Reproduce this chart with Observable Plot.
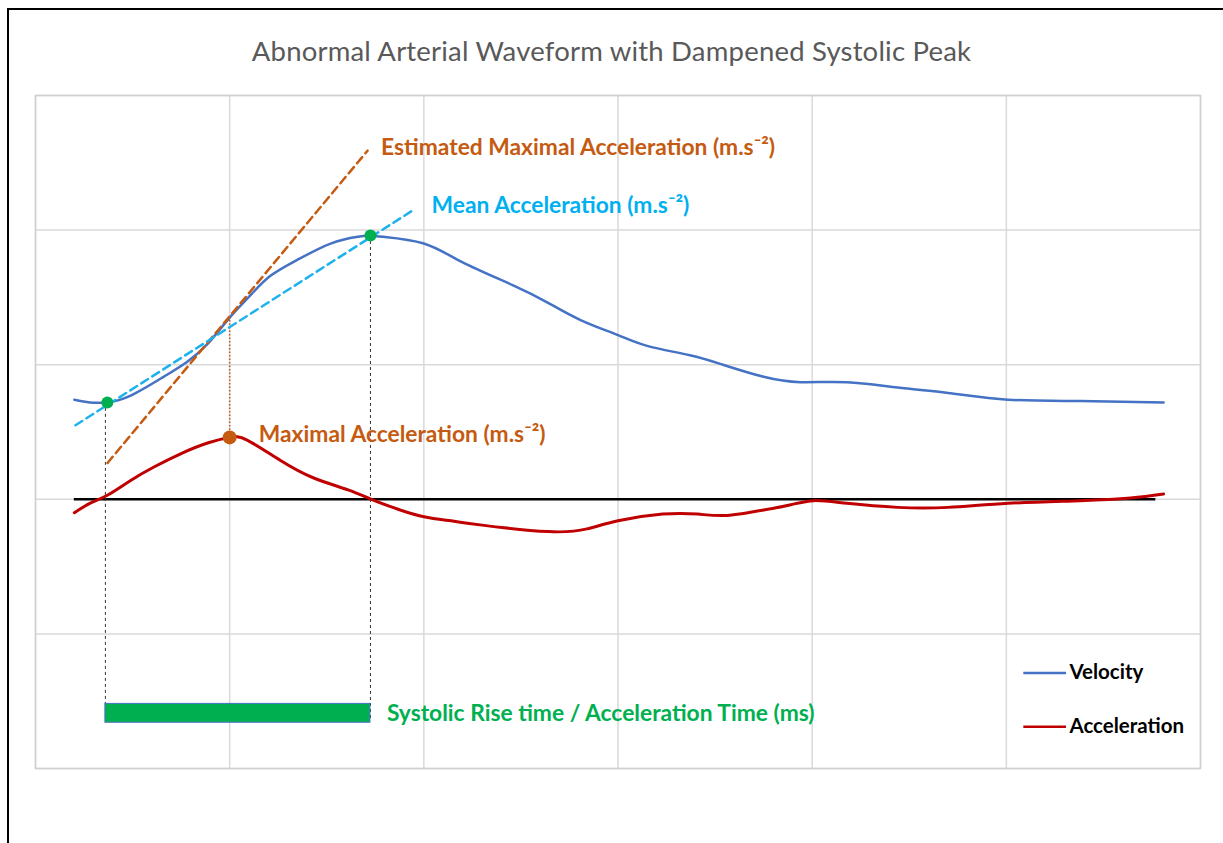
<!DOCTYPE html>
<html>
<head>
<meta charset="utf-8">
<script src="https://cdn.jsdelivr.net/npm/d3@7"></script>
<script src="https://cdn.jsdelivr.net/npm/@observablehq/plot@0.6"></script>
<style>
  html, body { margin: 0; padding: 0; background: #fff; }
  body { width: 1223px; height: 843px; position: relative; overflow: hidden; font-family: Lato, "Open Sans", sans-serif; }
  #frame { position: absolute; left: 7px; top: 8px; width: 1300px; height: 900px; border-left: 2px solid #000; border-top: 2px solid #000; pointer-events: none; }
  #title { position: absolute; left: 0; top: 0; width: 1223px; height: 80px; display: flex; align-items: center; justify-content: center; padding-top: 20px; box-sizing: border-box; font-size: 27.5px; color: #595959; letter-spacing: 0.2px; }
  #chart { position: absolute; left: 0; top: 80px; }
</style>
</head>
<body>
<div id="frame"></div>
<div id="title">Abnormal Arterial Waveform with Dampened Systolic Peak</div>
<div id="chart"></div>
<script>
// Time (ms) and values
const velocityTime  = [20, 28, 37, 49, 66, 78, 89, 100, 111, 121, 135, 152, 166, 172, 179, 200, 220, 246, 264, 281, 300, 315, 337, 354, 375, 394, 418, 444, 470, 501, 538, 581];
const velocityValue = [0.74, 0.72, 0.72, 0.77, 0.91, 1.02, 1.16, 1.35, 1.52, 1.66, 1.78, 1.90, 1.95, 1.96, 1.95, 1.90, 1.76, 1.59, 1.46, 1.33, 1.22, 1.14, 1.07, 1.00, 0.91, 0.87, 0.87, 0.83, 0.79, 0.74, 0.73, 0.72];

const accelTime  = [20, 28, 37, 49, 61, 75, 89, 100, 109, 126, 143, 161, 173, 186, 200, 214, 229, 264, 284, 300, 323, 341, 356, 375, 389, 401, 418, 444, 470, 501, 538, 564, 581];
const accelValue = [-0.10, -0.03, 0.03, 0.14, 0.24, 0.34, 0.42, 0.46, 0.44, 0.29, 0.16, 0.07, 0.0, -0.07, -0.13, -0.16, -0.19, -0.24, -0.22, -0.16, -0.11, -0.11, -0.12, -0.08, -0.04, -0.01, -0.03, -0.06, -0.06, -0.03, -0.01, 0.01, 0.04];

const xTicks = [0, 100, 200, 300, 400, 500, 600];
const yTicks = [-2, -1, 0, 1, 2, 3];

const riseStart = 36, riseEnd = 172.5;       // ms
const footVel = 0.72, peakVel = 1.96;         // velocity at foot and peak
const maxAccTime = 100, maxAccVal = 0.46, velAtMaxAcc = 1.35;
const meanLine = [[20.6, 0.55], [194.7, 2.15]];
const estLine  = [[37.1, 0.27], [171.0, 2.59]];
const zeroLine = [20, 577];
const barBottom = -1.66, barTop = -1.52, dropBottom = -1.63;

const labels = [
  {x: 178, y: 2.61, text: "Estimated Maximal Acceleration (m.s⁻²)", color: "#C55A11"},
  {x: 204, y: 2.18, text: "Mean Acceleration (m.s⁻²)", color: "#00B0F0"},
  {x: 115, y: 0.48, text: "Maximal Acceleration (m.s⁻²)", color: "#C55A11"},
  {x: 181, y: -1.59, text: "Systolic Rise time / Acceleration Time (ms)", color: "#00B050"}
];
const legendNames  = ["Velocity", "Acceleration"];
const legendColors = ["#4472C4", "#C00000"];
const legendY = [-1.29, -1.69];
const legendX = [509, 531, 532.5];

const velocity = velocityTime.map((t, i) => ({t, v: velocityValue[i]}));
const accel = accelTime.map((t, i) => ({t, v: accelValue[i]}));
const legend = legendNames.map((n, i) => ({name: n, color: legendColors[i], y: legendY[i]}));

const chart = Plot.plot({
  width: 1223,
  height: 763,
  marginLeft: 35,
  marginRight: 23,
  marginTop: 15,
  marginBottom: 75,
  x: {domain: [0, 600], axis: null},
  y: {domain: [-2, 3], axis: null},
  style: {fontFamily: "Lato, 'Open Sans', sans-serif", background: "transparent"},
  marks: [
    Plot.ruleX(xTicks, {stroke: "#d9d9d9", strokeWidth: 1.5, strokeOpacity: 1}),
    Plot.ruleY(yTicks, {stroke: "#d9d9d9", strokeWidth: 1.5, strokeOpacity: 1}),
    Plot.frame({stroke: "#d0d0d0", strokeWidth: 1.5}),
    // zero line
    Plot.ruleY([0], {x1: zeroLine[0], x2: zeroLine[1], stroke: "#000", strokeWidth: 2.5}),
    // drop lines
    Plot.ruleX([riseStart], {y1: footVel, y2: dropBottom, stroke: "#333", strokeWidth: 1, strokeDasharray: "3,3"}),
    Plot.ruleX([riseEnd], {y1: peakVel, y2: dropBottom, stroke: "#333", strokeWidth: 1, strokeDasharray: "3,3"}),
    Plot.ruleX([maxAccTime], {y1: maxAccVal, y2: velAtMaxAcc, stroke: "#C55A11", strokeWidth: 1.5, strokeDasharray: "1.5,2"}),
    // curves
    Plot.line(velocity, {x: "t", y: "v", stroke: "#4472C4", strokeWidth: 2.5, curve: "natural"}),
    Plot.line(accel, {x: "t", y: "v", stroke: "#C00000", strokeWidth: 3, curve: "natural"}),
    // tangent lines
    Plot.line(estLine, {x: d => d[0], y: d => d[1], stroke: "#C55A11", strokeWidth: 2.5, strokeDasharray: "8,5"}),
    Plot.line(meanLine, {x: d => d[0], y: d => d[1], stroke: "#1DB2EE", strokeWidth: 2.5, strokeDasharray: "8,5"}),
    // dots
    Plot.dot([[riseStart + 1, footVel], [riseEnd, peakVel]], {x: d => d[0], y: d => d[1], r: 6, fill: "#00B050", stroke: "none"}),
    Plot.dot([[maxAccTime, maxAccVal]], {x: d => d[0], y: d => d[1], r: 7, fill: "#C55A11", stroke: "none"}),
    // rise-time bar
    Plot.rect([{x1: riseStart, x2: riseEnd, y1: barBottom, y2: barTop}], {x1: "x1", x2: "x2", y1: "y1", y2: "y2", fill: "#00B050", stroke: "#4472C4", strokeWidth: 1}),
    // labels
    Plot.text(labels, {x: "x", y: "y", text: "text", fill: d => d.color, textAnchor: "start", fontSize: 22.8, fontWeight: "bold"}),
    // legend
    Plot.ruleY(legend, {y: "y", x1: legendX[0], x2: legendX[1], stroke: "color", strokeWidth: 2.5}),
    Plot.text(legend, {x: legendX[2], y: "y", text: "name", fill: "#000", textAnchor: "start", fontSize: 20.5, fontWeight: "bold"})
  ]
});
document.getElementById("chart").appendChild(chart);
</script>
</body>
</html>
